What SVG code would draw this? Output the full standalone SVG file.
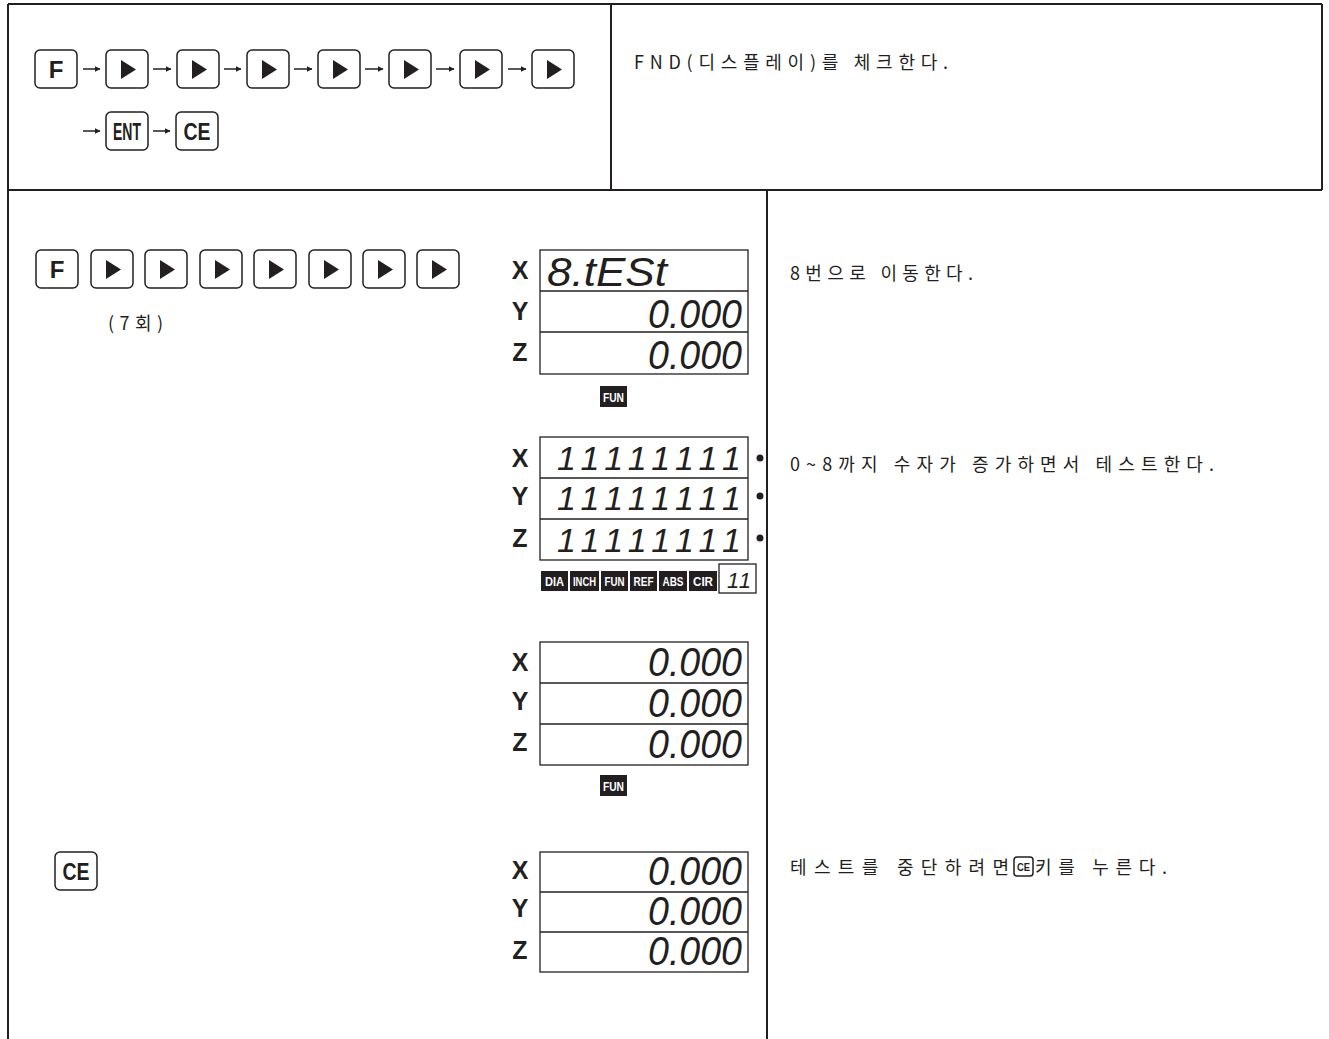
<svg xmlns="http://www.w3.org/2000/svg" width="1329" height="1039" viewBox="0 0 1329 1039">
<style>
.frame{stroke:#231f20;stroke-width:2;fill:none}
.key{fill:#fff;stroke:#231f20;stroke-width:1.5}
.tri{fill:#231f20}
.kl{font-family:"Liberation Sans",Arial,sans-serif;font-weight:bold;fill:#231f20;text-anchor:middle}
.lcd{fill:#fff;stroke:#231f20;stroke-width:1.3}
.axis{font-family:"Liberation Sans",Arial,sans-serif;font-weight:bold;font-size:25px;fill:#231f20;text-anchor:middle}
.seg{font-family:"Liberation Sans",Arial,sans-serif;font-style:italic;font-size:40px;fill:#231f20}
.seg1{font-family:"Liberation Sans",Arial,sans-serif;font-style:italic;font-size:34px;fill:#231f20}
.seg2{font-family:"Liberation Sans",Arial,sans-serif;font-style:italic;font-size:22px;fill:#231f20}
.kr{font-family:"Noto Sans CJK KR","Noto Sans",sans-serif;font-weight:400;font-size:18px;fill:#231f20}
.tag{fill:#231f20}
.tagt{font-family:"Liberation Sans",Arial,sans-serif;font-weight:bold;font-size:13px;fill:#fff;text-anchor:middle}
.conn{stroke:#231f20;stroke-width:1.5;fill:none}
</style>
<defs>
<marker id="ah" viewBox="0 0 6 6" refX="5.5" refY="3" markerWidth="6" markerHeight="6" markerUnits="userSpaceOnUse" orient="auto">
<path d="M0,0 L6,3 L0,6 Z" fill="#231f20"/>
</marker>
<g id="play"><rect class="key" width="42" height="38" rx="5"/><path class="tri" d="M15,10 L15,29 L30,19.5 Z"/></g>
<g id="fkey"><rect class="key" width="42" height="38" rx="5"/><text class="kl" x="21" y="28" font-size="24">F</text></g>
<g id="cekey"><rect class="key" width="42" height="38" rx="5"/><text class="kl" x="21" y="28" font-size="24" textLength="27" lengthAdjust="spacingAndGlyphs">CE</text></g>
</defs>

<g id="frame">
<line class="frame" x1="8" y1="4" x2="1322" y2="4"/>
<line class="frame" x1="8" y1="4" x2="8" y2="1039"/>
<line class="frame" x1="1322" y1="4" x2="1322" y2="190"/>
<line class="frame" x1="8" y1="190" x2="1322" y2="190"/>
<line class="frame" x1="611" y1="4" x2="611" y2="190"/>
<line class="frame" x1="767" y1="190" x2="767" y2="1039"/>
</g>

<g id="seq-f"><use href="#fkey" x="35" y="50"/></g>
<g id="seq-r1"><use href="#play" x="106" y="50"/></g>
<g id="seq-r2"><use href="#play" x="177" y="50"/></g>
<g id="seq-r3"><use href="#play" x="247" y="50"/></g>
<g id="seq-r4"><use href="#play" x="318" y="50"/></g>
<g id="seq-r5"><use href="#play" x="389" y="50"/></g>
<g id="seq-r6"><use href="#play" x="460" y="50"/></g>
<g id="seq-r7"><use href="#play" x="532" y="50"/></g>
<g id="seq-ent"><rect class="key" x="106" y="112" width="42" height="38" rx="5"/><text class="kl" x="127" y="140" font-size="23" textLength="28" lengthAdjust="spacingAndGlyphs">ENT</text></g>
<g id="seq-ce"><use href="#cekey" x="176" y="112"/></g>

<g id="connectors">
<line class="conn" x1="83" y1="69" x2="100" y2="69" marker-end="url(#ah)"/>
<line class="conn" x1="153" y1="69" x2="171" y2="69" marker-end="url(#ah)"/>
<line class="conn" x1="224" y1="69" x2="241" y2="69" marker-end="url(#ah)"/>
<line class="conn" x1="294" y1="69" x2="312" y2="69" marker-end="url(#ah)"/>
<line class="conn" x1="365" y1="69" x2="383" y2="69" marker-end="url(#ah)"/>
<line class="conn" x1="436" y1="69" x2="454" y2="69" marker-end="url(#ah)"/>
<line class="conn" x1="508" y1="69" x2="526" y2="69" marker-end="url(#ah)"/>
<line class="conn" x1="83" y1="131" x2="100" y2="131" marker-end="url(#ah)"/>
<line class="conn" x1="153" y1="131" x2="170" y2="131" marker-end="url(#ah)"/>
</g>

<g id="desc-top"><text class="kr" x="634" y="69" textLength="314" lengthAdjust="spacing">FND(디스플레이)를 체크한다.</text></g>

<g id="step1-keys">
<use href="#fkey" x="36" y="250"/>
<use href="#play" x="91" y="250"/>
<use href="#play" x="145" y="250"/>
<use href="#play" x="200" y="250"/>
<use href="#play" x="254" y="250"/>
<use href="#play" x="309" y="250"/>
<use href="#play" x="363" y="250"/>
<use href="#play" x="417" y="250"/>
<text class="kr" x="108" y="330" textLength="55" lengthAdjust="spacing">(7회)</text>
</g>

<g id="display1">
<rect class="lcd" x="540" y="250" width="208" height="124"/>
<line class="lcd" x1="540" y1="291" x2="748" y2="291"/>
<line class="lcd" x1="540" y1="332" x2="748" y2="332"/>
<text class="axis" x="520" y="279">X</text>
<text class="axis" x="520" y="320">Y</text>
<text class="axis" x="520" y="361">Z</text>
<text class="seg" x="547" y="286" textLength="120" lengthAdjust="spacingAndGlyphs">8.tESt</text>
<text class="seg" x="648" y="328" textLength="94" lengthAdjust="spacingAndGlyphs">0.000</text>
<text class="seg" x="648" y="369" textLength="94" lengthAdjust="spacingAndGlyphs">0.000</text>
<rect class="tag" x="600" y="386" width="27" height="21"/>
<text class="tagt" x="613.5" y="401.5" textLength="21" lengthAdjust="spacingAndGlyphs">FUN</text>
</g>
<g id="desc1"><text class="kr" x="790" y="280" textLength="183" lengthAdjust="spacing">8번으로 이동한다.</text></g>

<g id="display2">
<rect class="lcd" x="540" y="437" width="208" height="123"/>
<line class="lcd" x1="540" y1="478" x2="748" y2="478"/>
<line class="lcd" x1="540" y1="519" x2="748" y2="519"/>
<text class="axis" x="520" y="467">X</text>
<text class="axis" x="520" y="505">Y</text>
<text class="axis" x="520" y="547">Z</text>
<text class="seg1" x="557" y="470" textLength="184" lengthAdjust="spacing">11111111</text>
<text class="seg1" x="557" y="510" textLength="184" lengthAdjust="spacing">11111111</text>
<text class="seg1" x="557" y="552" textLength="184" lengthAdjust="spacing">11111111</text>
<circle cx="760" cy="458" r="3.5" fill="#231f20"/>
<circle cx="760" cy="496" r="3.5" fill="#231f20"/>
<circle cx="760" cy="538" r="3.5" fill="#231f20"/>
<rect class="tag" x="541" y="571" width="27" height="20"/>
<text class="tagt" x="554.5" y="586" textLength="19" lengthAdjust="spacingAndGlyphs">DIA</text>
<rect class="tag" x="570" y="571" width="29" height="20"/>
<text class="tagt" x="584.5" y="586" textLength="23" lengthAdjust="spacingAndGlyphs">INCH</text>
<rect class="tag" x="601" y="571" width="27" height="20"/>
<text class="tagt" x="614.5" y="586" textLength="20" lengthAdjust="spacingAndGlyphs">FUN</text>
<rect class="tag" x="630" y="571" width="27" height="20"/>
<text class="tagt" x="643.5" y="586" textLength="20" lengthAdjust="spacingAndGlyphs">REF</text>
<rect class="tag" x="659" y="571" width="28" height="20"/>
<text class="tagt" x="673" y="586" textLength="21" lengthAdjust="spacingAndGlyphs">ABS</text>
<rect class="tag" x="689" y="571" width="28" height="20"/>
<text class="tagt" x="703" y="586" textLength="20" lengthAdjust="spacingAndGlyphs">CIR</text>
<rect class="lcd" x="719" y="564" width="37" height="29"/>
<text class="seg2" x="727" y="588" textLength="24" lengthAdjust="spacing">11</text>
</g>
<g id="desc2"><text class="kr" x="790" y="471" textLength="424" lengthAdjust="spacing">0~8까지 수자가 증가하면서 테스트한다.</text></g>

<g id="display3">
<rect class="lcd" x="540" y="642" width="208" height="123"/>
<line class="lcd" x1="540" y1="683" x2="748" y2="683"/>
<line class="lcd" x1="540" y1="724" x2="748" y2="724"/>
<text class="axis" x="520" y="671">X</text>
<text class="axis" x="520" y="710">Y</text>
<text class="axis" x="520" y="751">Z</text>
<text class="seg" x="648" y="676" textLength="94" lengthAdjust="spacingAndGlyphs">0.000</text>
<text class="seg" x="648" y="717" textLength="94" lengthAdjust="spacingAndGlyphs">0.000</text>
<text class="seg" x="648" y="758" textLength="94" lengthAdjust="spacingAndGlyphs">0.000</text>
<rect class="tag" x="600" y="775" width="27" height="21"/>
<text class="tagt" x="613.5" y="790.5" textLength="21" lengthAdjust="spacingAndGlyphs">FUN</text>
</g>

<g id="step-ce"><use href="#cekey" x="55" y="852"/></g>

<g id="display4">
<rect class="lcd" x="540" y="852" width="208" height="120"/>
<line class="lcd" x1="540" y1="892" x2="748" y2="892"/>
<line class="lcd" x1="540" y1="932" x2="748" y2="932"/>
<text class="axis" x="520" y="879">X</text>
<text class="axis" x="520" y="917">Y</text>
<text class="axis" x="520" y="959">Z</text>
<text class="seg" x="648" y="885" textLength="94" lengthAdjust="spacingAndGlyphs">0.000</text>
<text class="seg" x="648" y="925" textLength="94" lengthAdjust="spacingAndGlyphs">0.000</text>
<text class="seg" x="648" y="965" textLength="94" lengthAdjust="spacingAndGlyphs">0.000</text>
</g>
<g id="desc4">
<text class="kr" x="790" y="874" textLength="219" lengthAdjust="spacing">테스트를 중단하려면</text>
<rect class="key" x="1014" y="857" width="19" height="19" rx="3" stroke-width="1.2"/>
<text class="kl" x="1023.5" y="871" font-size="11" textLength="13" lengthAdjust="spacingAndGlyphs">CE</text>
<text class="kr" x="1035" y="874" textLength="132" lengthAdjust="spacing">키를 누른다.</text>
</g>
</svg>
